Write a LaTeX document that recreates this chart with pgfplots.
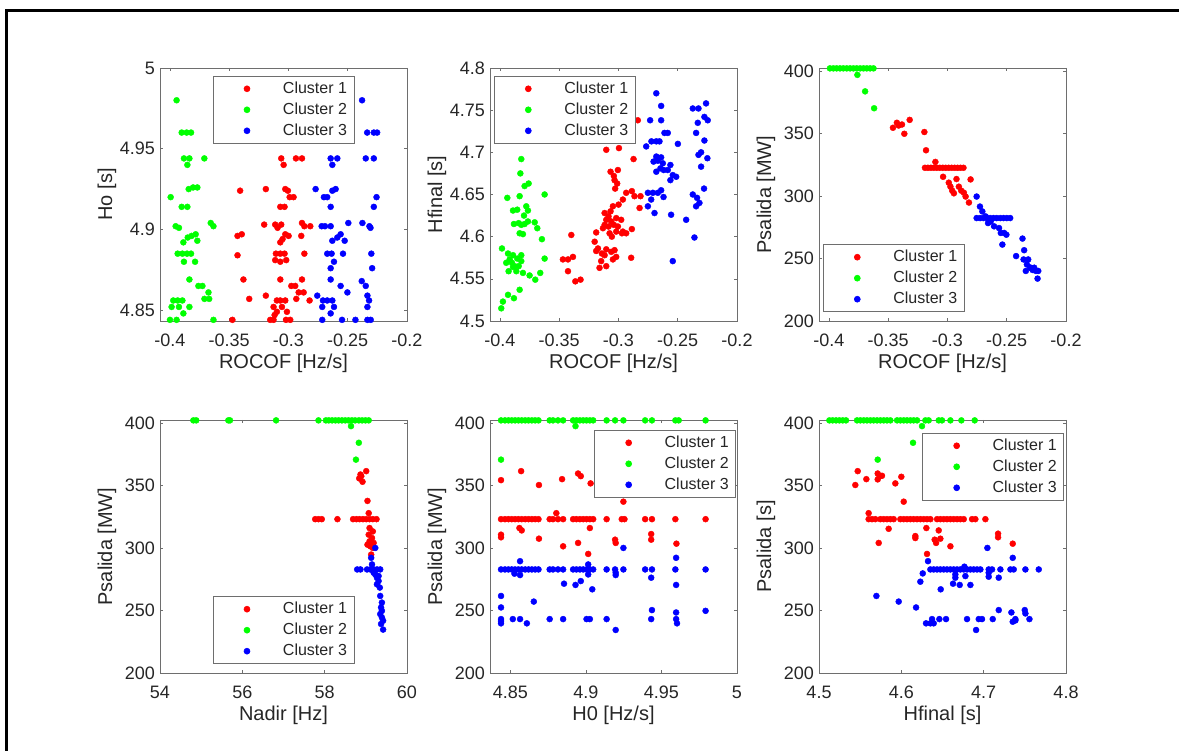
\documentclass[border=0pt]{standalone}
\usepackage{pgfplots}
\pgfplotsset{compat=1.18}
\usepackage{fontspec}
\setmainfont{Liberation Sans}
\definecolor{axgray}{RGB}{110,110,110}
\definecolor{txt}{RGB}{38,38,38}
\definecolor{cr}{RGB}{255,0,0}
\definecolor{cg}{RGB}{0,255,0}
\definecolor{cb}{RGB}{0,0,255}
\pgfplotsset{
  mat/.style={
    scale only axis, width=247pt, height=253pt, anchor=south west,
    clip=false,
    axis line style={axgray, line width=0.8pt},
    every tick/.style={axgray, line width=0.6pt},
    major tick length=3pt,
    tick align=inside,
    tick label style={txt, font=\fontsize{18}{18}\selectfont},
    xticklabel style={inner sep=0pt, anchor=center, yshift=-19pt},
    yticklabel style={inner sep=0pt, anchor=east, xshift=-5pt},
    xlabel style={at={(axis description cs:0.5,-0.166)}, anchor=center, font=\fontsize{20}{20}\selectfont, text=txt},
    ylabel style={at={(axis description cs:-0.2146,0.5)}, anchor=center, font=\fontsize{20}{20}\selectfont, text=txt},
    legend style={draw=axgray, line width=0.6pt, fill=white, font=\fontsize{16}{16}\selectfont, text=txt,
      inner xsep=5pt, inner ysep=2pt, row sep=0pt, column sep=31pt,
      nodes={inner xsep=2pt, inner ysep=3.5pt, text height=11.5pt, text depth=2.5pt}},
    legend cell align=left,
  },
  rocof/.style={xmin=-0.4084, xmax=-0.2, xtick={-0.4,-0.35,-0.3,-0.25,-0.2},
    xticklabels={-0.4,-0.35,-0.3,-0.25,-0.2}, xlabel={ROCOF [Hz/s]}},
  pwr/.style={ymin=200, ymax=402.3, ytick={200,250,300,350,400}, yticklabels={200,250,300,350,400}},
  cc/.style={only marks, mark=*, mark size=3pt, color=#1,
    legend image code/.code={%
      \draw[##1, opacity=0] plot coordinates {(-26pt,0pt)};
      \draw[##1] plot coordinates {(0pt,0pt)};}},
  c1/.style={cc=cr},
  c2/.style={cc=cg},
  c3/.style={cc=cb},
}
\begin{document}
\begin{tikzpicture}
\path[use as bounding box] (0pt,0pt) rectangle (1179pt,751pt);
\draw[line width=3pt, black] (6.5pt,0pt) -- (6.5pt,740pt) -- (1179pt,740pt);

% ---------- Plot 1 ----------
\begin{axis}[mat, rocof, at={(160pt,430pt)},
  ymin=4.8433, ymax=5, ytick={4.85,4.9,4.95,5}, yticklabels={4.85,4.9,4.95,5},
  ylabel={Ho [s]},
  legend style={at={(0.5,1)}, anchor=north, yshift=-8pt}]
\addplot[c1] coordinates {(-0.3061,4.944) (-0.2937,4.944) (-0.2886,4.944) (-0.3041,4.940) (-0.3408,4.924) (-0.3191,4.925) (-0.3027,4.925) (-0.3005,4.924) (-0.2990,4.920) (-0.2957,4.920) (-0.3069,4.914) (-0.3033,4.914) (-0.3205,4.903) (-0.3112,4.903) (-0.3092,4.901) (-0.3061,4.903) (-0.2886,4.904) (-0.2866,4.902) (-0.2816,4.902) (-0.3394,4.897) (-0.3430,4.896) (-0.3027,4.897) (-0.2999,4.896) (-0.3050,4.894) (-0.3069,4.892) (-0.2892,4.896) (-0.3430,4.884) (-0.3106,4.885) (-0.3069,4.885) (-0.3033,4.885) (-0.3112,4.881) (-0.3019,4.881) (-0.2866,4.885) (-0.3069,4.880) (-0.3380,4.869) (-0.3069,4.869) (-0.2886,4.869) (-0.2976,4.865) (-0.2943,4.865) (-0.2914,4.861) (-0.2872,4.861) (-0.3331,4.857) (-0.3191,4.859) (-0.3098,4.856) (-0.3069,4.856) (-0.3027,4.856) (-0.2934,4.857) (-0.2822,4.856) (-0.3126,4.852) (-0.3055,4.852) (-0.3098,4.849) (-0.3013,4.849) (-0.3473,4.844) (-0.3154,4.844) (-0.3126,4.844) (-0.3021,4.844) (-0.2985,4.844) (-0.3117,4.847)};
\addplot[c2] coordinates {(-0.3944,4.980) (-0.3901,4.960) (-0.3859,4.960) (-0.3822,4.960) (-0.3882,4.944) (-0.3836,4.944) (-0.3853,4.940) (-0.3710,4.944) (-0.3842,4.925) (-0.3805,4.926) (-0.3769,4.926) (-0.3994,4.920) (-0.3901,4.914) (-0.3853,4.914) (-0.3952,4.902) (-0.3924,4.901) (-0.3656,4.904) (-0.3633,4.902) (-0.3783,4.897) (-0.3817,4.896) (-0.3850,4.895) (-0.3887,4.892) (-0.3769,4.893) (-0.3935,4.885) (-0.3895,4.885) (-0.3856,4.885) (-0.3822,4.885) (-0.3882,4.880) (-0.3788,4.880) (-0.3836,4.869) (-0.3760,4.865) (-0.3726,4.865) (-0.3675,4.861) (-0.3709,4.857) (-0.3669,4.857) (-0.3972,4.856) (-0.3935,4.856) (-0.3895,4.856) (-0.3986,4.852) (-0.3924,4.852) (-0.3836,4.852) (-0.3887,4.848) (-0.4000,4.844) (-0.3944,4.844) (-0.3633,4.844)};
\addplot[c3] coordinates {(-0.2379,4.980) (-0.2336,4.960) (-0.2280,4.960) (-0.2252,4.960) (-0.2644,4.944) (-0.2588,4.944) (-0.2630,4.940) (-0.2348,4.944) (-0.2280,4.944) (-0.2771,4.925) (-0.2630,4.924) (-0.2602,4.925) (-0.2701,4.920) (-0.2673,4.920) (-0.2257,4.920) (-0.2644,4.914) (-0.2280,4.914) (-0.2720,4.902) (-0.2692,4.902) (-0.2644,4.902) (-0.2495,4.904) (-0.2376,4.904) (-0.2317,4.902) (-0.2308,4.901) (-0.2560,4.897) (-0.2588,4.895) (-0.2630,4.893) (-0.2526,4.893) (-0.2673,4.885) (-0.2636,4.885) (-0.2540,4.885) (-0.2301,4.885) (-0.2616,4.880) (-0.2644,4.876) (-0.2294,4.876) (-0.2644,4.869) (-0.2560,4.865) (-0.2382,4.868) (-0.2348,4.865) (-0.2757,4.859) (-0.2503,4.861) (-0.2334,4.859) (-0.2709,4.856) (-0.2673,4.856) (-0.2630,4.856) (-0.2320,4.856) (-0.2715,4.852) (-0.2616,4.852) (-0.2334,4.852) (-0.2644,4.848) (-0.2715,4.844) (-0.2548,4.844) (-0.2435,4.844) (-0.2334,4.844) (-0.2306,4.844)};
\legend{Cluster 1, Cluster 2, Cluster 3}
\end{axis}

% ---------- Plot 2 ----------
\begin{axis}[mat, rocof, at={(490pt,430pt)},
  ymin=4.5, ymax=4.8, ytick={4.5,4.55,4.6,4.65,4.7,4.75,4.8}, yticklabels={4.5,4.55,4.6,4.65,4.7,4.75,4.8},
  ylabel={Hfinal [s]},
  legend style={at={(0,1)}, anchor=north west, xshift=4pt, yshift=-8pt}]
\addplot[c1] coordinates {(-0.2837,4.738) (-0.3103,4.703) (-0.2996,4.705) (-0.2873,4.692) (-0.3067,4.677) (-0.3039,4.672) (-0.3005,4.679) (-0.3033,4.667) (-0.3011,4.663) (-0.3028,4.657) (-0.2935,4.652) (-0.2887,4.654) (-0.2865,4.648) (-0.2814,4.648) (-0.2963,4.644) (-0.2999,4.638) (-0.3047,4.636) (-0.3067,4.630) (-0.3117,4.628) (-0.3084,4.624) (-0.2822,4.634) (-0.3103,4.620) (-0.3061,4.618) (-0.3019,4.622) (-0.3039,4.614) (-0.3084,4.612) (-0.3005,4.612) (-0.2977,4.620) (-0.3117,4.614) (-0.3075,4.604) (-0.3019,4.606) (-0.2971,4.604) (-0.3056,4.600) (-0.3131,4.610) (-0.2963,4.606) (-0.2935,4.604) (-0.2887,4.609) (-0.3188,4.605) (-0.3398,4.602) (-0.3201,4.594) (-0.3173,4.586) (-0.3188,4.583) (-0.3140,4.580) (-0.3103,4.585) (-0.3061,4.582) (-0.3033,4.584) (-0.3117,4.578) (-0.3146,4.571) (-0.3103,4.565) (-0.3160,4.563) (-0.3047,4.573) (-0.3019,4.576) (-0.2893,4.575) (-0.3469,4.573) (-0.3426,4.573) (-0.3384,4.576) (-0.3426,4.559) (-0.3364,4.547) (-0.3320,4.549)};
\addplot[c2] coordinates {(-0.3820,4.692) (-0.3828,4.675) (-0.3792,4.660) (-0.3758,4.663) (-0.3938,4.646) (-0.3834,4.648) (-0.3623,4.650) (-0.3890,4.631) (-0.3854,4.632) (-0.3778,4.636) (-0.3764,4.631) (-0.3797,4.625) (-0.3842,4.616) (-0.3882,4.615) (-0.3792,4.615) (-0.3820,4.614) (-0.3764,4.618) (-0.3707,4.617) (-0.3685,4.610) (-0.3646,4.597) (-0.3834,4.604) (-0.3806,4.603) (-0.3983,4.586) (-0.3932,4.580) (-0.3890,4.578) (-0.3820,4.578) (-0.3854,4.574) (-0.3918,4.573) (-0.3947,4.569) (-0.3899,4.569) (-0.3876,4.565) (-0.3820,4.571) (-0.3862,4.559) (-0.3927,4.559) (-0.3890,4.564) (-0.3842,4.565) (-0.3806,4.557) (-0.3623,4.574) (-0.3750,4.554) (-0.3702,4.549) (-0.3660,4.557) (-0.3834,4.537) (-0.3882,4.527) (-0.3932,4.531) (-0.3975,4.523) (-0.3989,4.515)};
\addplot[c3] coordinates {(-0.2681,4.770) (-0.2640,4.755) (-0.2373,4.752) (-0.2325,4.752) (-0.2261,4.758) (-0.2733,4.738) (-0.2640,4.738) (-0.2331,4.735) (-0.2275,4.742) (-0.2247,4.738) (-0.2612,4.723) (-0.2584,4.723) (-0.2345,4.723) (-0.2499,4.710) (-0.2722,4.713) (-0.2681,4.713) (-0.2654,4.713) (-0.2275,4.714) (-0.2766,4.707) (-0.2303,4.700) (-0.2325,4.697) (-0.2250,4.693) (-0.2681,4.695) (-0.2640,4.694) (-0.2668,4.690) (-0.2704,4.689) (-0.2626,4.687) (-0.2646,4.681) (-0.2681,4.677) (-0.2618,4.679) (-0.2562,4.685) (-0.2584,4.679) (-0.2542,4.673) (-0.2513,4.671) (-0.2562,4.667) (-0.2303,4.683) (-0.2752,4.652) (-0.2710,4.652) (-0.2668,4.652) (-0.2724,4.644) (-0.2640,4.655) (-0.2620,4.647) (-0.2752,4.636) (-0.2696,4.628) (-0.2556,4.626) (-0.2373,4.650) (-0.2337,4.646) (-0.2317,4.640) (-0.2345,4.636) (-0.2278,4.657) (-0.2429,4.620) (-0.2359,4.599) (-0.2542,4.571)};
\legend{Cluster 1, Cluster 2, Cluster 3}
\end{axis}

% ---------- Plot 3 ----------
\begin{axis}[mat, rocof, pwr, at={(819pt,430pt)},
  ylabel={Psalida [MW]},
  legend style={at={(0,0)}, anchor=south west, xshift=4pt, yshift=9pt}]
\addplot[c1] coordinates {(-0.3460,354.5) (-0.3427,358.5) (-0.3412,356.3) (-0.3384,357.1) (-0.3364,349.7) (-0.3319,360.8) (-0.3195,351.1) (-0.3181,336.5) (-0.3102,327.2) (-0.3190,322.5) (-0.3165,322.5) (-0.3140,322.5) (-0.3115,322.5) (-0.3090,322.5) (-0.3065,322.5) (-0.3040,322.5) (-0.3015,322.5) (-0.2990,322.5) (-0.2965,322.5) (-0.2940,322.5) (-0.2915,322.5) (-0.2890,322.5) (-0.2865,322.5) (-0.3037,315.3) (-0.2989,310.6) (-0.2975,307.4) (-0.2960,304.2) (-0.2946,302.1) (-0.2904,307.4) (-0.2884,304.2) (-0.2862,302.6) (-0.2847,299.5) (-0.2805,313.2) (-0.2819,294.7) (-0.2924,313.5)};
\addplot[c2] coordinates {(-0.3992,402) (-0.3963,402) (-0.3935,402) (-0.3907,402) (-0.3879,402) (-0.3850,402) (-0.3822,402) (-0.3794,402) (-0.3766,402) (-0.3737,402) (-0.3709,402) (-0.3681,402) (-0.3653,402) (-0.3624,402) (-0.3760,396.8) (-0.3695,383.6) (-0.3619,370.1)};
\addplot[c3] coordinates {(-0.2754,299.5) (-0.2726,291.5) (-0.2706,287.6) (-0.2678,283.6) (-0.2658,278.3) (-0.2636,279.6) (-0.2607,275.7) (-0.2565,274.3) (-0.2550,270.4) (-0.2522,270.4) (-0.2503,269.0) (-0.2537,261.1) (-0.2754,282.3) (-0.2725,282.3) (-0.2697,282.3) (-0.2668,282.3) (-0.2640,282.3) (-0.2612,282.3) (-0.2584,282.3) (-0.2555,282.3) (-0.2527,282.3) (-0.2499,282.3) (-0.2471,282.3) (-0.2367,265.9) (-0.2353,256.6) (-0.2421,251.9) (-0.2358,249.2) (-0.2319,249.2) (-0.2330,245.2) (-0.2302,242.6) (-0.2339,240.0) (-0.2282,240.8) (-0.2254,240.0) (-0.2234,240.0) (-0.2240,233.9) (-0.2297,242.6) (-0.2268,242.6)};
\legend{Cluster 1, Cluster 2, Cluster 3}
\end{axis}

% ---------- Plot 4 ----------
\begin{axis}[mat, pwr, at={(160pt,78pt)},
  xmin=54, xmax=60, xtick={54,56,58,60}, xticklabels={54,56,58,60},
  xlabel={Nadir [Hz]}, ylabel={Psalida [MW]},
  legend style={at={(0.5,0)}, anchor=south, yshift=9pt}]
\addplot[c1] coordinates {(58.87,358.7) (58.84,355.6) (58.92,352.9) (59.01,361.4) (58.89,357.4) (59.04,337.6) (59.07,327.8) (57.77,323.0) (57.85,323.0) (57.93,323.0) (58.31,323.0) (58.69,323.0) (58.77,323.0) (58.85,323.0) (58.93,323.0) (59.01,323.0) (59.09,323.0) (59.17,323.0) (59.26,323.0) (59.09,315.9) (59.17,313.2) (59.07,310.6) (59.15,307.9) (59.09,305.3) (59.19,304.0) (59.11,301.3) (59.04,302.6) (59.17,300.0) (59.13,294.7)};
\addplot[c2] coordinates {(54.81,402) (54.88,402) (55.66,402) (55.70,402) (56.82,402) (57.85,402) (58.03,402) (58.10,402) (58.18,402) (58.26,402) (58.34,402) (58.42,402) (58.50,402) (58.58,402) (58.66,402) (58.74,402) (58.83,402) (58.91,402) (58.99,402) (59.07,402) (58.64,397.4) (58.83,384.1) (58.76,370.6)};
\addplot[c3] coordinates {(59.23,300.0) (59.13,292.1) (58.79,282.8) (58.87,282.8) (59.03,282.8) (59.11,282.8) (59.19,282.8) (59.27,282.8) (59.35,282.8) (59.15,286.8) (59.23,278.8) (59.27,276.2) (59.31,273.5) (59.27,270.9) (59.34,268.3) (59.35,261.6) (59.39,256.3) (59.37,252.4) (59.39,249.7) (59.35,247.1) (59.39,244.4) (59.42,241.8) (59.37,239.2) (59.42,234.7) (59.31,277.5) (59.19,280.2)};
\legend{Cluster 1, Cluster 2, Cluster 3}
\end{axis}

% ---------- Plot 5 ----------
\begin{axis}[mat, pwr, at={(490pt,78pt)},
  xmin=4.8365, xmax=5, xtick={4.85,4.9,4.95,5}, xticklabels={4.85,4.9,4.95,5},
  xlabel={H0 [Hz/s]}, ylabel={Psalida [MW]},
  legend style={at={(1,1)}, anchor=north east, xshift=-1pt, yshift=-10pt}]
\addplot[c1] coordinates {(4.8438,354.2) (4.8571,361.4) (4.8689,350.3) (4.8842,355.0) (4.8948,359.5) (4.8966,357.4) (4.9031,351.6) (4.9248,337.0) (4.8804,327.8) (4.8438,323.0) (4.8464,323.0) (4.8487,323.0) (4.8509,323.0) (4.8531,323.0) (4.8553,323.0) (4.8575,323.0) (4.8598,323.0) (4.8620,323.0) (4.8642,323.0) (4.8664,323.0) (4.8686,323.0) (4.8760,323.0) (4.8782,323.0) (4.8815,323.0) (4.8849,323.0) (4.8915,323.0) (4.8937,323.0) (4.8960,323.0) (4.8982,323.0) (4.9004,323.0) (4.9026,323.0) (4.9048,323.0) (4.9137,323.0) (4.9237,323.0) (4.9255,323.0) (4.9392,323.0) (4.9437,323.0) (4.9592,323.0) (4.9792,323.0) (4.8438,310.6) (4.8438,308.5) (4.8560,315.9) (4.8575,314.0) (4.8689,307.4) (4.8849,301.3) (4.8948,304.0) (4.9026,315.9) (4.9015,295.2) (4.9193,306.6) (4.9197,304.0) (4.9432,311.1) (4.9432,306.6) (4.9599,303.4)};
\addplot[c2] coordinates {(4.8438,402) (4.8464,402) (4.8487,402) (4.8509,402) (4.8531,402) (4.8553,402) (4.8575,402) (4.8598,402) (4.8620,402) (4.8642,402) (4.8664,402) (4.8686,402) (4.8760,402) (4.8782,402) (4.8815,402) (4.8849,402) (4.8915,402) (4.8937,402) (4.8960,402) (4.8982,402) (4.9004,402) (4.9026,402) (4.9048,402) (4.9137,402) (4.9193,402) (4.9248,402) (4.9392,402) (4.9437,402) (4.9592,402) (4.9614,402) (4.9792,402) (4.8931,397.4) (4.8438,370.6)};
\addplot[c3] coordinates {(4.8438,282.8) (4.8464,282.8) (4.8487,282.8) (4.8509,282.8) (4.8531,282.8) (4.8553,282.8) (4.8575,282.8) (4.8598,282.8) (4.8620,282.8) (4.8642,282.8) (4.8664,282.8) (4.8686,282.8) (4.8760,282.8) (4.8782,282.8) (4.8815,282.8) (4.8849,282.8) (4.8915,282.8) (4.8937,282.8) (4.8960,282.8) (4.8982,282.8) (4.9004,282.8) (4.9026,282.8) (4.9048,282.8) (4.9137,282.8) (4.9193,282.8) (4.9248,282.8) (4.9392,282.8) (4.9437,282.8) (4.9592,282.8) (4.9792,282.8) (4.8564,289.4) (4.8527,279.4) (4.8564,278.3) (4.9015,286.8) (4.9015,278.8) (4.9042,266.9) (4.9197,280.2) (4.9197,278.3) (4.9248,300.0) (4.9432,276.2) (4.9597,292.1) (4.9597,270.4) (4.8855,271.4) (4.8931,270.4) (4.8966,273.5) (4.8438,261.6) (4.8438,252.4) (4.8655,257.1) (4.8438,243.1) (4.8516,243.1) (4.8564,243.1) (4.8760,243.1) (4.8849,243.1) (4.9004,243.1) (4.9026,243.1) (4.9137,243.1) (4.9432,243.1) (4.9597,243.1) (4.8438,239.7) (4.8609,239.7) (4.9597,248.4) (4.9603,239.7) (4.9792,249.7) (4.9437,250.3) (4.9197,234.4) (4.8438,241.5)};
\legend{Cluster 1, Cluster 2, Cluster 3}
\end{axis}

% ---------- Plot 6 ----------
\begin{axis}[mat, pwr, at={(819pt,78pt)},
  xmin=4.5, xmax=4.8, xtick={4.5,4.6,4.7,4.8}, xticklabels={4.5,4.6,4.7,4.8},
  xlabel={Hfinal [s]}, ylabel={Psalida [s]},
  legend style={at={(1,1)}, anchor=north east, xshift=-2pt, yshift=-13pt}]
\addplot[c1] coordinates {(4.5470,361.4) (4.5575,355.0) (4.5441,350.3) (4.5713,359.5) (4.5737,357.4) (4.5713,354.8) (4.5765,357.7) (4.5927,351.6) (4.6000,356.9) (4.6029,337.0) (4.5603,327.8) (4.5603,323.0) (4.5644,323.0) (4.5684,323.0) (4.5745,323.0) (4.5786,323.0) (4.5826,323.0) (4.5867,323.0) (4.5907,323.0) (4.5988,323.0) (4.6029,323.0) (4.6069,323.0) (4.6110,323.0) (4.6150,323.0) (4.6191,323.0) (4.6231,323.0) (4.6272,323.0) (4.6312,323.0) (4.6353,323.0) (4.6434,323.0) (4.6474,323.0) (4.6515,323.0) (4.6555,323.0) (4.6596,323.0) (4.6636,323.0) (4.6677,323.0) (4.6717,323.0) (4.6758,323.0) (4.6859,323.0) (4.6899,323.0) (4.7021,323.0) (4.5846,315.3) (4.6170,309.5) (4.6170,307.9) (4.6304,315.9) (4.6454,314.0) (4.6405,306.6) (4.6422,304.0) (4.6474,307.4) (4.5725,304.0) (4.6596,301.3) (4.6312,295.2) (4.7175,311.4) (4.7175,308.5) (4.7353,303.4)};
\addplot[c2] coordinates {(4.5126,402) (4.5166,402) (4.5207,402) (4.5247,402) (4.5288,402) (4.5328,402) (4.5462,402) (4.5502,402) (4.5543,402) (4.5583,402) (4.5624,402) (4.5664,402) (4.5705,402) (4.5745,402) (4.5786,402) (4.5826,402) (4.5867,402) (4.5948,402) (4.5988,402) (4.6029,402) (4.6069,402) (4.6110,402) (4.6150,402) (4.6191,402) (4.6292,402) (4.6332,402) (4.6454,402) (4.6494,402) (4.6596,402) (4.6729,402) (4.6891,402) (4.6251,397.4) (4.6142,384.1) (4.5713,370.6)};
\addplot[c3] coordinates {(4.7045,300.0) (4.6324,289.4) (4.7353,292.1) (4.6353,282.8) (4.6393,282.8) (4.6434,282.8) (4.6474,282.8) (4.6515,282.8) (4.6555,282.8) (4.6596,282.8) (4.6636,282.8) (4.6677,282.8) (4.6717,282.8) (4.6758,282.8) (4.6798,282.8) (4.6839,282.8) (4.6879,282.8) (4.6920,282.8) (4.6960,282.8) (4.7061,282.8) (4.7102,282.8) (4.7203,282.8) (4.7325,282.8) (4.7365,282.8) (4.7507,282.8) (4.7669,282.8) (4.6260,279.6) (4.6231,273.0) (4.6656,278.8) (4.6656,276.2) (4.6766,285.0) (4.6778,277.5) (4.7061,280.2) (4.7061,277.0) (4.7183,276.2) (4.6628,271.4) (4.6709,270.4) (4.6839,270.4) (4.6478,266.9) (4.5697,261.6) (4.5968,257.1) (4.6179,252.4) (4.7183,250.3) (4.7337,248.4) (4.7499,250.3) (4.7507,247.6) (4.6373,243.1) (4.6462,243.1) (4.6543,243.1) (4.6798,243.1) (4.6940,243.1) (4.6980,243.1) (4.7110,243.1) (4.7385,243.1) (4.7556,243.1) (4.6300,239.7) (4.6353,239.7) (4.6393,239.7) (4.7353,241.0) (4.7385,242.0) (4.6908,234.4)};
\legend{Cluster 1, Cluster 2, Cluster 3}
\end{axis}
\end{tikzpicture}
\end{document}
